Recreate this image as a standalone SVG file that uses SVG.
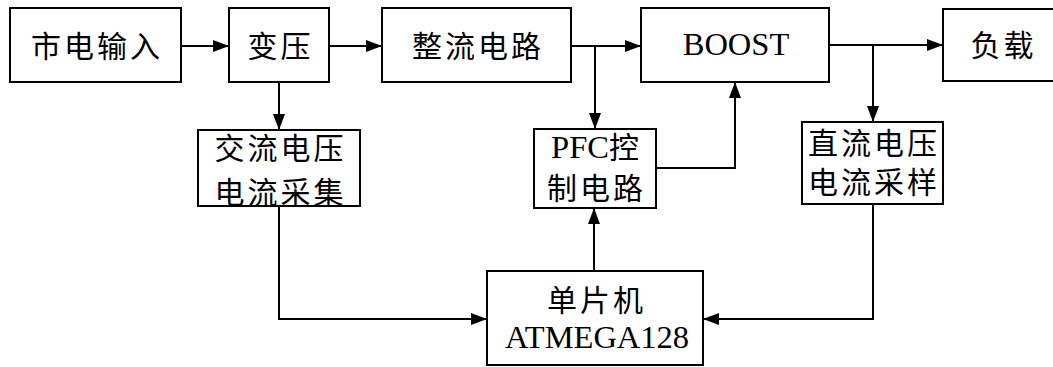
<svg xmlns="http://www.w3.org/2000/svg" width="1053" height="367" viewBox="0 0 1053 367">
<style>
.box{fill:#fff;stroke:#000;stroke-width:2}
.t{font-family:"Liberation Serif","Noto Sans CJK SC",serif;font-size:30px;fill:#000;text-anchor:middle}
.l{font-size:32.5px}
.c{fill:none;stroke:#000;stroke-width:2}
</style>
<defs>
<marker id="ah" markerUnits="userSpaceOnUse" markerWidth="16" markerHeight="12" refX="16" refY="6" orient="auto">
<path d="M0,0 L16,6 L0,12 z" fill="#000"/>
</marker>
</defs>
<g id="connectors">
<path class="c" d="M181,46 H229" marker-end="url(#ah)"/>
<path class="c" d="M279,82 V130" marker-end="url(#ah)"/>
<path class="c" d="M329,46 H382" marker-end="url(#ah)"/>
<path class="c" d="M571,46 H641" marker-end="url(#ah)"/>
<path class="c" d="M595,46 V129" marker-end="url(#ah)"/>
<path class="c" d="M829,45 H943" marker-end="url(#ah)"/>
<path class="c" d="M873,45 V122" marker-end="url(#ah)"/>
<path class="c" d="M656,168 H735 V82" marker-end="url(#ah)"/>
<path class="c" d="M594,271 V208" marker-end="url(#ah)"/>
<path class="c" d="M279,206 V319 H487" marker-end="url(#ah)"/>
<path class="c" d="M873,204 V319 H703" marker-end="url(#ah)"/>
</g>
<g id="n1"><rect class="box" x="10" y="8" width="171" height="74"/><text class="t" x="95.5" y="57" letter-spacing="3" dx="1.5">市电输入</text></g>
<g id="n2"><rect class="box" x="229" y="8" width="100" height="74"/><text class="t" x="279" y="57" letter-spacing="3" dx="1.5">变压</text></g>
<g id="n3"><rect class="box" x="382" y="8" width="189" height="74"/><text class="t" x="476.5" y="57" letter-spacing="3" dx="1.5">整流电路</text></g>
<g id="n4"><rect class="box" x="641" y="8" width="188" height="74"/><text class="t l" x="736" y="55">BOOST</text></g>
<g id="n5"><rect class="box" x="943" y="9" width="115" height="72"/><text class="t" x="1002" y="56" letter-spacing="3" dx="1.5">负载</text></g>
<g id="n6"><rect class="box" x="198" y="130" width="162" height="76"/><text class="t" x="279" y="159" letter-spacing="3" dx="1.5">交流电压</text><text class="t" x="279" y="203" letter-spacing="3" dx="1.5">电流采集</text></g>
<g id="n7"><rect class="box" x="534" y="129" width="122" height="79"/><text class="t" x="595" y="158"><tspan class="l">PFC</tspan>控</text><text class="t" x="595" y="199" letter-spacing="3" dx="1.5">制电路</text></g>
<g id="n8"><rect class="box" x="802" y="122" width="141" height="82"/><text class="t" x="872.5" y="154" letter-spacing="3" dx="1.5">直流电压</text><text class="t" x="872.5" y="193" letter-spacing="3" dx="1.5">电流采样</text></g>
<g id="n9"><rect class="box" x="487" y="271" width="216" height="94"/><text class="t" x="595" y="311" letter-spacing="3" dx="1.5">单片机</text><text class="t l" x="597" y="348">ATMEGA128</text></g>
</svg>
